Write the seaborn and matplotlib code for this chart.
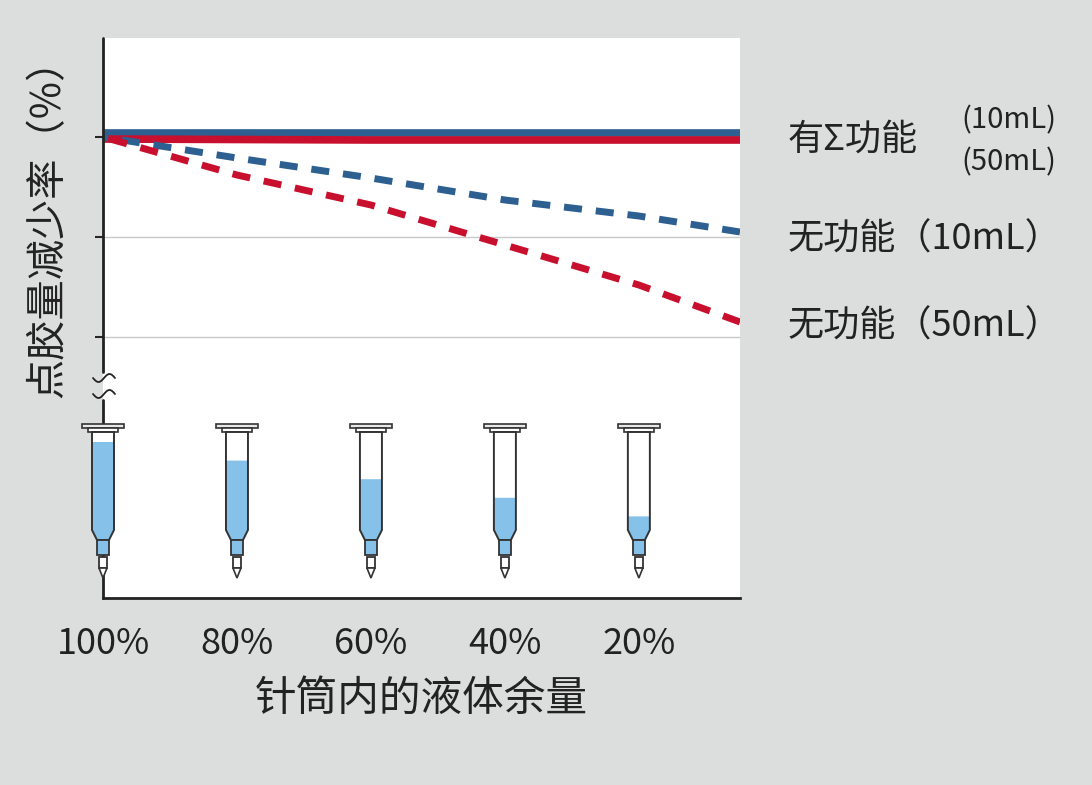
import numpy as np
import pandas as pd
import matplotlib
matplotlib.use("Agg")
import matplotlib.pyplot as plt
import seaborn as sns
from matplotlib.patches import Polygon

sns.set_style("white")
plt.rcParams['font.family'] = ['Noto Sans CJK SC', 'DejaVu Sans']

# data
remain = [100, 80, 60, 40, 20, 4.9]
tick_pos = [100, 80, 60, 40, 20]
tick_labels = ["100%", "80%", "60%", "40%", "20%"]
sigma_10 = [-0.04, -0.04, -0.04, -0.04, -0.04, -0.04]
sigma_50 = [0.02, 0.025, 0.03, 0.03, 0.03, 0.03]
none_10 = [0.0, 0.21, 0.41, 0.63, 0.79, 0.95]
none_50 = [0.0, 0.38, 0.68, 1.08, 1.48, 1.85]
fill_levels = [100, 80, 60, 40, 20]

BG = "#dcdedd"
BLUE = "#2d5f90"
RED = "#c8102e"
LIQ = "#85c1e9"
TXT = "#222222"

fig = plt.figure(figsize=(10.92, 7.85), dpi=100, facecolor=BG)
W, H = 1092, 785
ax = fig.add_axes([103/W, (H-598)/H, 637/W, 560/H])
ax.set_facecolor("white")

df = pd.DataFrame({"x": remain * 4,
                   "y": sigma_10 + sigma_50 + none_10 + none_50,
                   "s": ["a"]*6 + ["b"]*6 + ["c"]*6 + ["d"]*6})
sns.lineplot(data=df[df.s == "a"], x="x", y="y", color=BLUE, lw=5.5, ax=ax)
sns.lineplot(data=df[df.s == "b"], x="x", y="y", color=RED, lw=5.5, ax=ax)
sns.lineplot(data=df[df.s == "c"], x="x", y="y", color=BLUE, lw=5, ax=ax)
sns.lineplot(data=df[df.s == "d"], x="x", y="y", color=RED, lw=5, ax=ax)
for l in ax.lines[2:]:
    l.set_dashes([2.6, 2.0])

ax.set_xlim(100, 4.9)
ax.set_ylim(4.61, -0.99)
for g in [0, 1, 2]:
    ax.axhline(g, color="#c8c8c8", lw=1, zorder=0)

ax.set_xticks(tick_pos)
ax.set_xticklabels(tick_labels, fontsize=26, color=TXT)
ax.set_yticks([0, 1, 2])
ax.set_yticklabels([])
ax.tick_params(axis="x", direction="in", length=7, width=1.5, pad=20)
ax.tick_params(axis="y", direction="out", length=6, width=1.5, left=True)
ax.set_xlabel("针筒内的液体余量", fontsize=30, labelpad=12, color=TXT)
ax.set_ylabel("")
for s in ["top", "right", "left"]:
    ax.spines[s].set_visible(False)
ax.spines["bottom"].set_linewidth(2)
ax.spines["bottom"].set_color(TXT)

# broken left spine
tr = ax.get_yaxis_transform()
ax.plot([0, 0], [-0.99, 2.35], transform=tr, color=TXT, lw=2, clip_on=False)
ax.plot([0, 0], [2.63, 4.61], transform=tr, color=TXT, lw=2, clip_on=False)
px = 0.1493  # % per pixel
t = np.linspace(0, 1, 30)
for yc in [2.41, 2.57]:
    xs = 100 + 10*px - t*22*px
    ys = yc + 0.04*np.sin(t*2*np.pi)
    ax.plot(xs, ys, color=TXT, lw=1.3, clip_on=False)

# syringes
def syr(cx, level):
    def P(dx, y):
        return (cx - dx*px, (y-137)/100)
    ax.add_patch(Polygon([P(-21, 424), P(21, 424), P(21, 428), P(-21, 428)],
                         closed=True, fc="#e8e8e8", ec="#333333", lw=1.2, clip_on=False, zorder=3))
    ax.add_patch(Polygon([P(-15, 428), P(15, 428), P(15, 432), P(-15, 432)],
                         closed=True, fc="white", ec="#333333", lw=1.2, clip_on=False, zorder=3))
    barrel = [P(-11, 432), P(11, 432), P(11, 530), P(6, 540), P(-6, 540), P(-11, 530)]
    top = 535 - (535-442) * level/100
    ax.add_patch(Polygon(barrel, closed=True, fc="white", ec="none", clip_on=False, zorder=3))
    ax.add_patch(Polygon([P(-11, top), P(11, top), P(11, 530), P(6, 540), P(-6, 540), P(-11, 530)],
                         closed=True, fc=LIQ, ec="none", clip_on=False, zorder=3))
    ax.add_patch(Polygon(barrel, closed=True, fc="none", ec="#333333", lw=1.4, clip_on=False, zorder=4))
    ax.add_patch(Polygon([P(-6, 540), P(6, 540), P(6, 555), P(-6, 555)],
                         closed=True, fc=LIQ, ec="#333333", lw=1.3, clip_on=False, zorder=4))
    ax.add_patch(Polygon([P(-4, 557), P(4, 557), P(4, 568), P(-4, 568)],
                         closed=True, fc="white", ec="#333333", lw=1.3, clip_on=False, zorder=4))
    ax.add_patch(Polygon([P(-4, 568), P(4, 568), P(0, 578)],
                         closed=True, fc="white", ec="#333333", lw=1.2, clip_on=False, zorder=4))

for x, lv in zip(tick_pos, fill_levels):
    syr(x, lv)

# labels
fig.text(48/W, 1-218/H, "点胶量减少率（%）", rotation=90, fontsize=29, ha="center", va="center", color=TXT)
fig.text(788/W, 1-140/H, "有Σ功能", fontsize=26, va="center", color=TXT)
fig.text(961/W, 1-120/H, "(10mL)", fontsize=21, va="center", color=TXT)
fig.text(961/W, 1-162/H, "(50mL)", fontsize=21, va="center", color=TXT)
fig.text(788/W, 1-240/H, "无功能（10mL）", fontsize=26, va="center", color=TXT)
fig.text(788/W, 1-327/H, "无功能（50mL）", fontsize=26, va="center", color=TXT)

fig.savefig("out.png", dpi=100, facecolor=BG)
